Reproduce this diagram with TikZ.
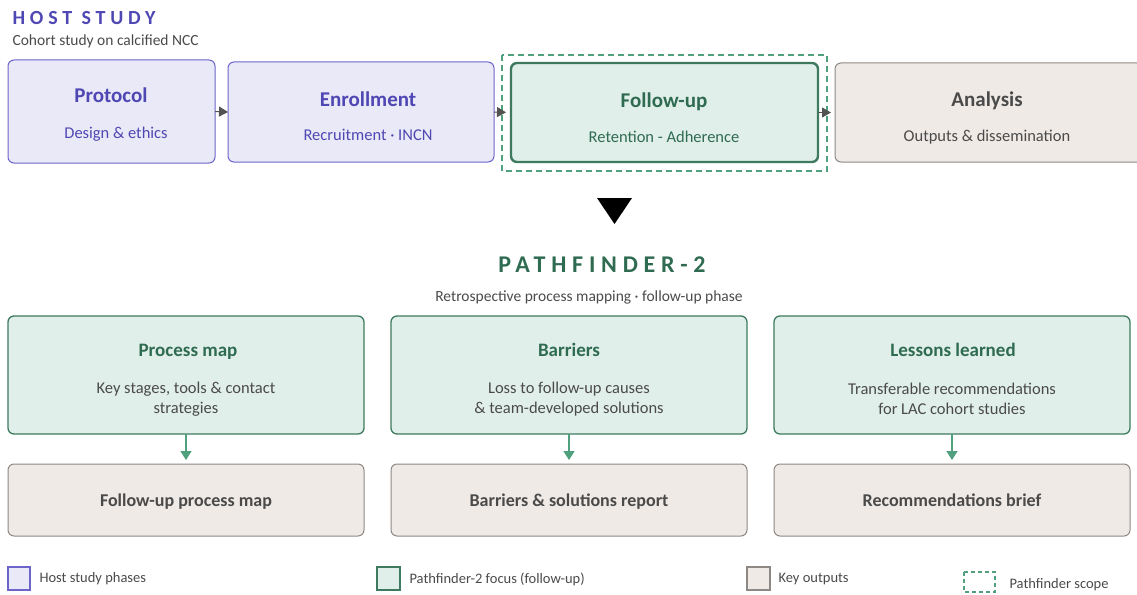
\documentclass[tikz,border=0pt]{standalone}
\usepackage{fontspec}
\setmainfont{Carlito}
\newfontfamily\spacedfont[LetterSpace=24]{Carlito}
\usetikzlibrary{positioning, arrows.meta}

\definecolor{hostline}{HTML}{6C64C9}
\definecolor{hostfill}{HTML}{EAE9F7}
\definecolor{hosttext}{HTML}{4F47B3}
\definecolor{pfline}{HTML}{3D7A5F}
\definecolor{pffill}{HTML}{E1EFEA}
\definecolor{pftext}{HTML}{2F6B51}
\definecolor{scopeline}{HTML}{4FA07C}
\definecolor{outline}{HTML}{8E8884}
\definecolor{outfill}{HTML}{EFEAE6}
\definecolor{bodytext}{HTML}{4A4A4A}

\tikzset{
  box/.style={rectangle, rounded corners=6pt, outer sep=0pt, inner sep=0pt},
  hostbox/.style={box, draw=hostline, fill=hostfill, line width=1pt},
  pfbox/.style={box, draw=pfline, fill=pffill, line width=1.3pt},
  focusbox/.style={box, draw=pfline, fill=pffill, line width=2.4pt},
  outbox/.style={box, draw=outline, fill=outfill, line width=1pt},
  scopebox/.style={draw=scopeline, line width=1.5pt, dash pattern=on 6pt off 4pt},
  title/.style={font=\fontsize{21}{24}\selectfont\bfseries, text height=15pt, text depth=4pt},
  subtitle/.style={font=\fontsize{16.5}{20}\selectfont, align=center},
  outtitle/.style={font=\fontsize{18}{22}\selectfont\bfseries, text=bodytext, text height=13pt, text depth=4pt},
  legtext/.style={font=\fontsize{14.5}{17}\selectfont, text=bodytext, anchor=west},
  flow/.style={draw=gray!65!black, line width=1pt, -{Triangle[length=9pt,width=10pt]}},
  down/.style={draw=scopeline, line width=1.5pt, -{Triangle[length=9pt,width=11pt]}},
}

\begin{document}
\begin{tikzpicture}[x=1pt, y=-1pt]
\useasboundingbox (0,0) rectangle (1137,594);

% host study header
\node[anchor=west, text=hosttext, font=\spacedfont\fontsize{20}{24}\selectfont\bfseries] (hosthead) at (9,18) {HOST STUDY};
\node[anchor=west, text=bodytext, font=\fontsize{15.5}{18}\selectfont] (hostsub) at (9,41) {Cohort study on calcified NCC};

% host study phases
\node[hostbox, minimum width=207pt, minimum height=103pt] (protocol) at (111.5,111.5) {};
\node[hostbox, minimum width=266pt, minimum height=100pt] (enroll) at (361,112) {};
\draw[scopebox] (502,55) rectangle (827,171);
\node[focusbox, minimum width=307pt, minimum height=99pt] (followup) at (664.5,112.5) {};
\node[outbox, minimum width=310pt, minimum height=99pt] (analysis) at (990,112.5) {};

\node[title, text=hosttext] (protocolT) at (111,97) {Protocol};
\node[subtitle, text=hosttext] (protocolD) at (116,134) {Design \& ethics};
\node[title, text=hosttext] (enrollT) at (368,101) {Enrollment};
\node[subtitle, text=hosttext] (enrollD) at (368,135) {Recruitment · INCN};
\node[title, text=pftext] (followupT) at (664,102) {Follow-up};
\node[subtitle, text=pftext] (followupD) at (664,137) {Retention - Adherence};
\node[title, text=bodytext] (analysisT) at (987,101) {Analysis};
\node[subtitle, text=bodytext] (analysisD) at (987,137) {Outputs \& dissemination};

\draw[flow] (protocol.east) -- (enroll.west);
\draw[flow, shorten >=5pt] (enroll.east) -- (followup.west);
\draw[flow, shorten >=4pt] (followup.east) -- (analysis.west);

% big arrow down
\fill[black] (597,198) -- (632,198) -- (614.5,224) -- cycle;

% pathfinder header
\node[text=pftext, font=\spacedfont\fontsize{24}{28}\selectfont\bfseries] (pfhead) at (602,265) {PATHFINDER-2};
\node[text=bodytext, font=\fontsize{15.5}{18}\selectfont] (pfsub) at (589,297) {Retrospective process mapping · follow-up phase};

% pathfinder focus
\node[pfbox, minimum width=356pt, minimum height=118pt] (procmap) at (186,375) {};
\node[pfbox, minimum width=356pt, minimum height=118pt] (barriers) at (569,375) {};
\node[pfbox, minimum width=356pt, minimum height=118pt] (lessons) at (952,375) {};

\node[title, font=\fontsize{19}{22}\selectfont\bfseries, text=pftext] (procmapT) at (188,351) {Process map};
\node[subtitle, text=bodytext] (procmapD) at (186,399) {Key stages, tools \& contact\\strategies};
\node[title, font=\fontsize{19}{22}\selectfont\bfseries, text=pftext] (barriersT) at (569,351) {Barriers};
\node[subtitle, text=bodytext] (barriersD) at (569,399) {Loss to follow-up causes\\\& team-developed solutions};
\node[title, font=\fontsize{19}{22}\selectfont\bfseries, text=pftext] (lessonsT) at (953,351) {Lessons learned};
\node[subtitle, text=bodytext] (lessonsD) at (952,399) {Transferable recommendations\\for LAC cohort studies};

% key outputs
\node[outbox, minimum width=356pt, minimum height=72pt] (procout) at (186,500) {};
\node[outbox, minimum width=356pt, minimum height=72pt] (barrout) at (569,500) {};
\node[outbox, minimum width=356pt, minimum height=72pt] (lessout) at (952,500) {};

\node[outtitle] (procoutT) at (186,502) {Follow-up process map};
\node[outtitle] (barroutT) at (569,502) {Barriers \& solutions report};
\node[outtitle] (lessoutT) at (952,502) {Recommendations brief};

\draw[down, shorten >=4pt] (procmap.south) -- (procout.north);
\draw[down, shorten >=4pt] (barriers.south) -- (barrout.north);
\draw[down, shorten >=4pt] (lessons.south) -- (lessout.north);

% legend
\draw[draw=hostline, fill=hostfill, line width=1.2pt] (8,567) rectangle (30,590);
\node[legtext] (leghost) at (36,579) {Host study phases};
\draw[draw=pfline, fill=pffill, line width=1.2pt] (377,567) rectangle (400,590);
\node[legtext] (legpf) at (406,579) {Pathfinder-2 focus (follow-up)};
\draw[draw=outline, fill=outfill, line width=1.2pt] (747,567) rectangle (770,590);
\node[legtext] (legout) at (775,579) {Key outputs};
\draw[draw=scopeline, line width=1.3pt, dash pattern=on 4pt off 3pt] (964,572) rectangle (995,592);
\node[legtext] (legscope) at (1006,585) {Pathfinder scope};
\end{tikzpicture}
\end{document}
